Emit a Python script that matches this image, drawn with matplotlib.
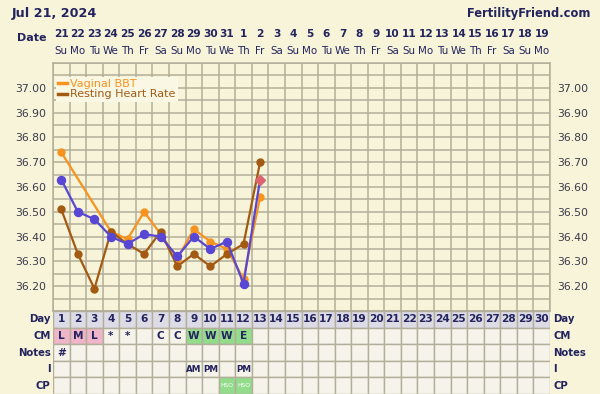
import numpy as np
import matplotlib
matplotlib.use("Agg")
import matplotlib.pyplot as plt
from matplotlib.patches import Rectangle
from matplotlib.lines import Line2D
import matplotlib.transforms as mtransforms

# ---------------- data ----------------
title_date = "Jul 21, 2024"
site = "FertilityFriend.com"
date_labels = [str(d) for d in list(range(21, 32)) + list(range(1, 20))]
weekdays = ["Su", "Mo", "Tu", "We", "Th", "Fr", "Sa"] * 5
weekdays = weekdays[:30]
cycle_days = list(range(1, 31))

days = list(range(1, 14))
vaginal_bbt = [36.74, np.nan, np.nan, 36.42, 36.39, 36.50, 36.41, 36.31, 36.43, 36.38, 36.35, 36.23, 36.56]
resting_hr = [36.51, 36.33, 36.19, 36.42, 36.37, 36.33, 36.42, 36.28, 36.33, 36.28, 36.33, 36.37, 36.70]
bbt = [36.63, 36.50, 36.47, 36.40, 36.37, 36.41, 36.40, 36.32, 36.40, 36.35, 36.38, 36.21, 36.63]

ytick_vals = [36.20, 36.30, 36.40, 36.50, 36.60, 36.70, 36.80, 36.90, 37.00]

cm_row = {1: "L", 2: "M", 3: "L", 4: "*", 5: "*", 7: "C", 8: "C", 9: "W", 10: "W", 11: "W", 12: "E"}
cm_colors = {1: "pink", 2: "pink", 3: "pink", 9: "green", 10: "green", 11: "green", 12: "green"}
notes_row = {1: "#"}
i_row = {9: "AM", 10: "PM", 12: "PM"}
cp_row = {11: "HSO", 12: "HSO"}
row_names = ["Day", "CM", "Notes", "I", "CP"]

# ---------------- style ----------------
BG = "#f8f4da"
GRID = "#b2ae9a"
NAVY = "#23235e"
TXT = "#3a3a4a"
ORANGE = "#f7931e"
BROWN = "#a35a12"
BLUE = "#5847d4"
DIAMOND = "#dc6470"
PINK = "#efb6ca"
GREEN = "#92dc8c"
DAYROW = "#dcdbe6"
CELL = "#f6f4ea"

W, H = 600, 394
fig = plt.figure(figsize=(W / 100, H / 100), dpi=100, facecolor=BG)
plt.rcParams['font.family'] = ['DejaVu Sans']

def fy(y):
    return 1 - y / H

def fx(x):
    return x / W

L, R, T, B = 53, 550, 63, 311
ax = fig.add_axes([fx(L), fy(B), fx(R) - fx(L), fy(T) - fy(B)])
ax.set_facecolor(BG)
ax.set_xlim(0.5, 30.5)
ax.set_ylim(36.10, 37.10)
for xv in np.arange(0.5, 31, 1):
    ax.axvline(xv, color=GRID, lw=1.1, zorder=1)
for yv in np.arange(36.10, 37.11, 0.05):
    ax.axhline(yv, color=GRID, lw=1.1, zorder=1)
for s in ax.spines.values():
    s.set_color(GRID)
    s.set_linewidth(1.1)
ax.set_xticks([])
ax.set_yticks(ytick_vals)
ax.set_yticklabels([f"{v:.2f}" for v in ytick_vals], fontsize=7.8, color=TXT)
ax.tick_params(axis='y', length=0, pad=5, labelright=True, right=False)

# series
vb = np.array(vaginal_bbt)
d = np.array(days)
m = ~np.isnan(vb)
ax.plot(d[m], vb[m], color=ORANGE, lw=1.6, marker='o', ms=5, zorder=3)
ax.plot(days, resting_hr, color=BROWN, lw=1.6, marker='o', ms=5, zorder=4)
ax.plot(days, bbt, color=BLUE, lw=1.6, zorder=5)
ax.plot(days[:-1], bbt[:-1], color=BLUE, lw=0, marker='o', ms=5.8, zorder=5)
ax.plot(days[-1:], bbt[-1:], color=DIAMOND, lw=0, marker='D', ms=5.5, zorder=6)

# legend
handles = [Line2D([0], [0], color=ORANGE, lw=2.5), Line2D([0], [0], color=BROWN, lw=2.5)]
leg = ax.legend(handles, ["Vaginal BBT", "Resting Heart Rate"], loc='upper left',
                bbox_to_anchor=(0.006, 0.945), fontsize=8, frameon=True, fancybox=False,
                handlelength=0.8, handletextpad=0.3, borderpad=0.2, labelspacing=0.05,
                borderaxespad=0)
leg.get_frame().set_facecolor("#faf7e4")
leg.get_frame().set_edgecolor("none")
leg.get_frame().set_alpha(1)
leg.set_zorder(10)
for t, c in zip(leg.get_texts(), [ORANGE, BROWN]):
    t.set_color(c)

# header
fig.text(fx(12), fy(13), title_date, fontsize=9.2, fontweight='bold', color=NAVY, va='center', ha='left')
fig.text(fx(590), fy(13), site, fontsize=8.3, fontweight='bold', color=NAVY, va='center', ha='right')
fig.text(fx(47), fy(38), "Date", fontsize=8, fontweight='bold', color=NAVY, va='center', ha='right')
trans = mtransforms.blended_transform_factory(ax.transData, fig.transFigure)
for i, (dl, wd) in enumerate(zip(date_labels, weekdays)):
    ax.text(i + 1, fy(34), dl, transform=trans, fontsize=7.6, fontweight='bold', color=NAVY,
            ha='center', va='center', clip_on=False)
    ax.text(i + 1, fy(51), wd, transform=trans, fontsize=7.4, color=NAVY,
            ha='center', va='center', clip_on=False)

# table
ax2 = fig.add_axes([fx(L), 0, fx(R) - fx(L), fy(B)])
ax2.set_xlim(0.5, 30.5)
ax2.set_ylim(5, 0)
ax2.axis('off')
for day in cycle_days:
    for r in range(5):
        fc = DAYROW if r == 0 else CELL
        if r == 1 and day in cm_colors:
            fc = PINK if cm_colors[day] == "pink" else GREEN
        if r == 4 and day in cp_row:
            fc = GREEN
        ax2.add_patch(Rectangle((day - 0.5, r), 1, 1, facecolor=fc, edgecolor=GRID, lw=1.0))
    ax2.text(day, 0.5, str(day), fontsize=7.6, fontweight='bold', color=NAVY, ha='center', va='center')
for day, t in cm_row.items():
    ax2.text(day, 1.5, t, fontsize=7.6, fontweight='bold', color=NAVY, ha='center', va='center')
for day, t in notes_row.items():
    ax2.text(day, 2.5, t, fontsize=7.6, fontweight='bold', color=NAVY, ha='center', va='center')
for day, t in i_row.items():
    ax2.text(day, 3.5, t, fontsize=6.3, fontweight='bold', color=NAVY, ha='center', va='center')
for day, t in cp_row.items():
    ax2.text(day, 4.5, t, fontsize=4.3, color="white", ha='center', va='center')
for r, name in enumerate(row_names):
    ax2.text(0.35, r + 0.5, name, fontsize=7.3, fontweight='bold', color=NAVY, ha='right', va='center', clip_on=False)
    ax2.text(30.7, r + 0.5, name, fontsize=7.3, fontweight='bold', color=NAVY, ha='left', va='center', clip_on=False)

fig.savefig("out.png", dpi=100, facecolor=BG)
